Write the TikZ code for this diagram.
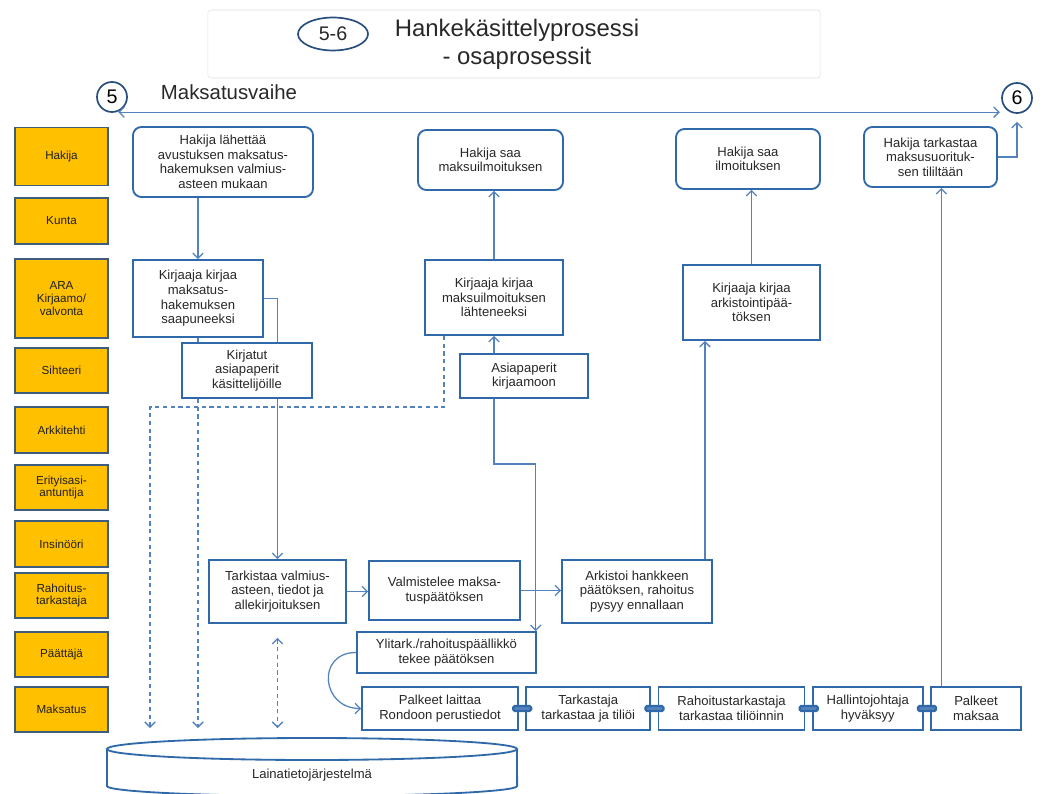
\documentclass[tikz,border=0pt]{standalone}
\usepackage{fontspec}
\setmainfont{Liberation Sans}
\usetikzlibrary{arrows.meta, positioning, shapes.geometric}

\definecolor{boxblue}{RGB}{47,105,170}
\definecolor{lineblue}{RGB}{84,130,188}
\definecolor{laneorange}{RGB}{255,192,0}
\definecolor{laneedge}{RGB}{62,92,125}
\definecolor{ringblue}{RGB}{40,78,125}
\definecolor{txt}{RGB}{40,40,40}

\begin{document}
\begin{tikzpicture}[x=0.025cm, y=-0.025cm,
    lane/.style={rectangle, draw=laneedge, line width=1.1pt, fill=laneorange,
                 minimum width=2.325cm, align=center, text=txt!80!black,
                 font=\fontsize{8.3}{9.2}\selectfont, inner sep=1pt},
    act/.style={rectangle, draw=boxblue, line width=1.3pt, fill=white,
                align=center, text=txt, font=\fontsize{9.3}{10.4}\selectfont,
                inner sep=2pt},
    ract/.style={act, rounded corners=6pt},
    arr/.style={-{Straight Barb[length=1.3mm,width=2.6mm]}, lineblue, line width=0.9pt},
    ln/.style={lineblue, line width=0.9pt},
    dln/.style={lineblue, line width=0.9pt, dash pattern=on 3pt off 2.5pt},
    ring/.style={circle, draw=ringblue, line width=1.2pt, fill=white,
                 font=\fontsize{14}{16}\selectfont, inner sep=0pt, minimum size=0.75cm},
    linkmark/.style={rectangle, rounded corners=1pt, fill=lineblue, draw=boxblue,
                     minimum width=0.45cm, minimum height=0.12cm, inner sep=0pt},
    node distance=0.16cm]
  \useasboundingbox (0,0) rectangle (1045,794);

  % title
  \node[draw=black!12, rounded corners=2pt, minimum width=15.3cm, minimum height=1.7cm] (head) at (514,44) {};
  \node[ellipse, draw=ringblue, line width=1.2pt, minimum width=1.75cm, minimum height=0.8cm,
        font=\fontsize{14}{16}\selectfont, text=txt] (phase56) at (333,34) {5-6};
  \node[align=center, font=\fontsize{17}{20}\selectfont, text=txt] (ttl) at (517,44) {Hankekäsittelyprosessi\\- osaprosessit};

  % phase
  \node[ring] (c5) at (112,97) {5};
  \node[ring] (c6) at (1017,98) {6};
  \node[font=\fontsize{14.5}{16}\selectfont, text=txt, anchor=west] (phase) at (156,92) {Maksatusvaihe};
  \coordinate (phL) at ([shift={(-5,4)}]c5.south east);
  \coordinate (phR) at ([xshift=-0.15cm]c6.south west);
  \draw[ln, {Straight Barb[length=1.3mm,width=2.6mm]}-{Straight Barb[length=1.3mm,width=2.6mm]}] (phL) -- (phL -| phR);

  % roles
  \node[lane, minimum height=1.45cm]  (lHakija) at (61.5,156.5) {Hakija};
  \node[lane, minimum height=1.15cm]  (lKunta)  at (61.5,221) {Kunta};
  \node[lane, minimum height=1.975cm] (lAra)    at (61.5,298.5) {ARA\\Kirjaamo/\\valvonta};
  \node[lane, minimum height=1.125cm] (lSiht)   at (61.5,370.5) {Sihteeri};
  \node[lane, minimum height=1.15cm]  (lArk)    at (61.5,430) {Arkkitehti};
  \node[lane, minimum height=1.125cm] (lErit)   at (61.5,487.5) {Erityisasi-\\antuntija};
  \node[lane, minimum height=1.15cm]  (lIns)    at (61.5,544) {Insinööri};
  \node[lane, minimum height=1.125cm] (lRah)    at (61.5,595.5) {Rahoitus-\\tarkastaja};
  \node[lane, minimum height=1.125cm] (lPaat)   at (61.5,654.5) {Päättäjä};
  \node[lane, minimum height=1.125cm] (lMaks)   at (61.5,709.5) {Maksatus};

  % activities
  \node[ract, minimum width=4.5cm, minimum height=1.75cm] (send) at (223,162)
       {Hakija lähettää\\avustuksen maksatus-\\hakemuksen valmius-\\asteen mukaan};
  \node[ract, minimum width=3.625cm, minimum height=1.5cm] (got1) at (490.5,160) {Hakija saa\\maksuilmoituksen};
  \node[ract, minimum width=3.6cm, minimum height=1.5cm] (got2) at (748,159) {Hakija saa\\ilmoituksen};
  \node[ract, minimum width=3.325cm, minimum height=1.5cm] (check2) at (930.5,157)
       {Hakija tarkastaa\\maksusuorituk-\\sen tililtään};

  \node[act, minimum width=3.25cm, minimum height=1.925cm] (reg1) at (198,298.5)
       {Kirjaaja kirjaa\\maksatus-\\hakemuksen\\saapuneeksi};
  \node[act, minimum width=3.25cm, minimum height=1.375cm] (papers1) at (247,370.5)
       {Kirjatut\\asiapaperit\\käsittelijöille};
  \node[act, minimum width=3.45cm, minimum height=1.875cm] (reg2) at (494,297.5)
       {Kirjaaja kirjaa\\maksuilmoituksen\\lähteneeksi};
  \node[act, minimum width=3.2cm, minimum height=1.1cm] (docs) at (524,376) {Asiapaperit\\kirjaamoon};
  \node[act, minimum width=3.425cm, minimum height=1.875cm] (reg3) at (751.5,302.5)
       {Kirjaaja kirjaa\\arkistointipää-\\töksen};

  \node[act, minimum width=3.425cm, minimum height=1.575cm] (check) at (277.5,591.5)
       {Tarkistaa valmius-\\asteen, tiedot ja\\allekirjoituksen};
  \node[act, minimum width=3.775cm, minimum height=1.475cm] (prep) at (444.5,590.5)
       {Valmistelee maksa-\\tuspäätöksen};
  \node[act, minimum width=3.75cm, minimum height=1.575cm] (archive) at (637,591.5)
       {Arkistoi hankkeen\\päätöksen, rahoitus\\pysyy ennallaan};
  \node[act, minimum width=4.475cm, minimum height=1.025cm] (decide) at (446.5,652.5)
       {Ylitark./rahoituspäällikkö\\tekee päätöksen};

  % payment chain
  \node[act, minimum width=3.9cm, minimum height=1.075cm] (enter) at (440,708.5) {Palkeet laittaa\\Rondoon perustiedot};
  \node[act, minimum width=3.1cm, minimum height=1.075cm, right=of enter] (audit) {Tarkastaja\\tarkastaa ja tiliöi};
  \node[act, minimum width=3.65cm, minimum height=1.075cm, right=of audit] (fincheck) {Rahoitustarkastaja\\tarkastaa tiliöinnin};
  \node[act, minimum width=2.75cm, minimum height=1.075cm, right=of fincheck] (approve) {Hallintojohtaja\\hyväksyy};
  \node[act, minimum width=2.25cm, minimum height=1.075cm, right=of approve] (pay) {Palkeet\\maksaa};

  % loan system
  \draw[draw=boxblue, line width=1.3pt, fill=white] (107,749) -- (107,786)
       arc[start angle=180, end angle=360, x radius=5.125cm, y radius=0.25cm] -- (517,749);
  \draw[draw=boxblue, line width=1.3pt, fill=white] (312,749) ellipse [x radius=5.125cm, y radius=0.275cm];
  \node[font=\fontsize{9.3}{11}\selectfont, text=txt] (db) at (312,775) {Lainatietojärjestelmä};
  \coordinate (dbtop) at (312,738);

  % connectors
  \draw[arr] (send.south -| reg1.north) -- (reg1.north);
  \draw[ln] (reg1.east) -| (papers1.north -| check.north);
  \draw[arr] (papers1.south -| check.north) -- (check.north);
  \draw[dln] (reg1.south) -- (reg1.south |- papers1.north);
  \draw[dln, arr, dash pattern=on 3pt off 2.5pt, shorten >=0.25cm] (reg1.south |- papers1.south) -- (reg1.south |- dbtop);
  \coordinate (dashjoin) at (150,407);
  \draw[dln, arr, dash pattern=on 3pt off 2.5pt, shorten >=0.25cm] ([xshift=0.5cm]reg2.south west) |- (dashjoin) -- (dashjoin |- dbtop);
  \draw[dln, {Straight Barb[length=1.3mm,width=2.6mm]}-{Straight Barb[length=1.3mm,width=2.6mm]},
        shorten <=0.35cm, shorten >=0.25cm] (check.south) -- (check.south |- dbtop);

  \draw[arr] (check.east) -- (check.east -| prep.west);
  \draw[arr] (prep.east) -- (prep.east -| archive.west);
  \coordinate (arcUp) at ([xshift=-0.2cm]archive.north east);
  \draw[arr] (arcUp) -- (arcUp |- reg3.south);
  \draw[arr] (reg3.north) -- (reg3.north |- got2.south);
  \draw[arr] (reg2.north) -- (reg2.north |- got1.south);
  \draw[arr] (reg2.south |- docs.north) -- (reg2.south);
  \coordinate (docsOut) at (reg2.south |- docs.south);
  \draw[arr] (docsOut) -- ++(0,65) -| ([xshift=-0.03cm]decide.north east);
  \draw[arr] (decide.west) .. controls ([xshift=-1cm]decide.west) and ([xshift=-1cm]enter.west) .. (enter.west);

  \draw[ln, line width=1.6pt] (enter.east) -- (audit.west) node[midway, linkmark] (k1) {};
  \draw[ln, line width=1.6pt] (audit.east) -- (fincheck.west) node[midway, linkmark] (k2) {};
  \draw[ln, line width=1.6pt] (fincheck.east) -- (approve.west) node[midway, linkmark] (k3) {};
  \draw[ln, line width=1.6pt] (approve.east) -- (pay.west) node[midway, linkmark] (k4) {};

  \coordinate (payUp) at ([xshift=0.28cm]pay.north west);
  \draw[arr] (payUp) -- (payUp |- check2.south);
  \draw[arr, shorten >=0.2cm] (check2.east) -| (c6.south);
\end{tikzpicture}
\end{document}
